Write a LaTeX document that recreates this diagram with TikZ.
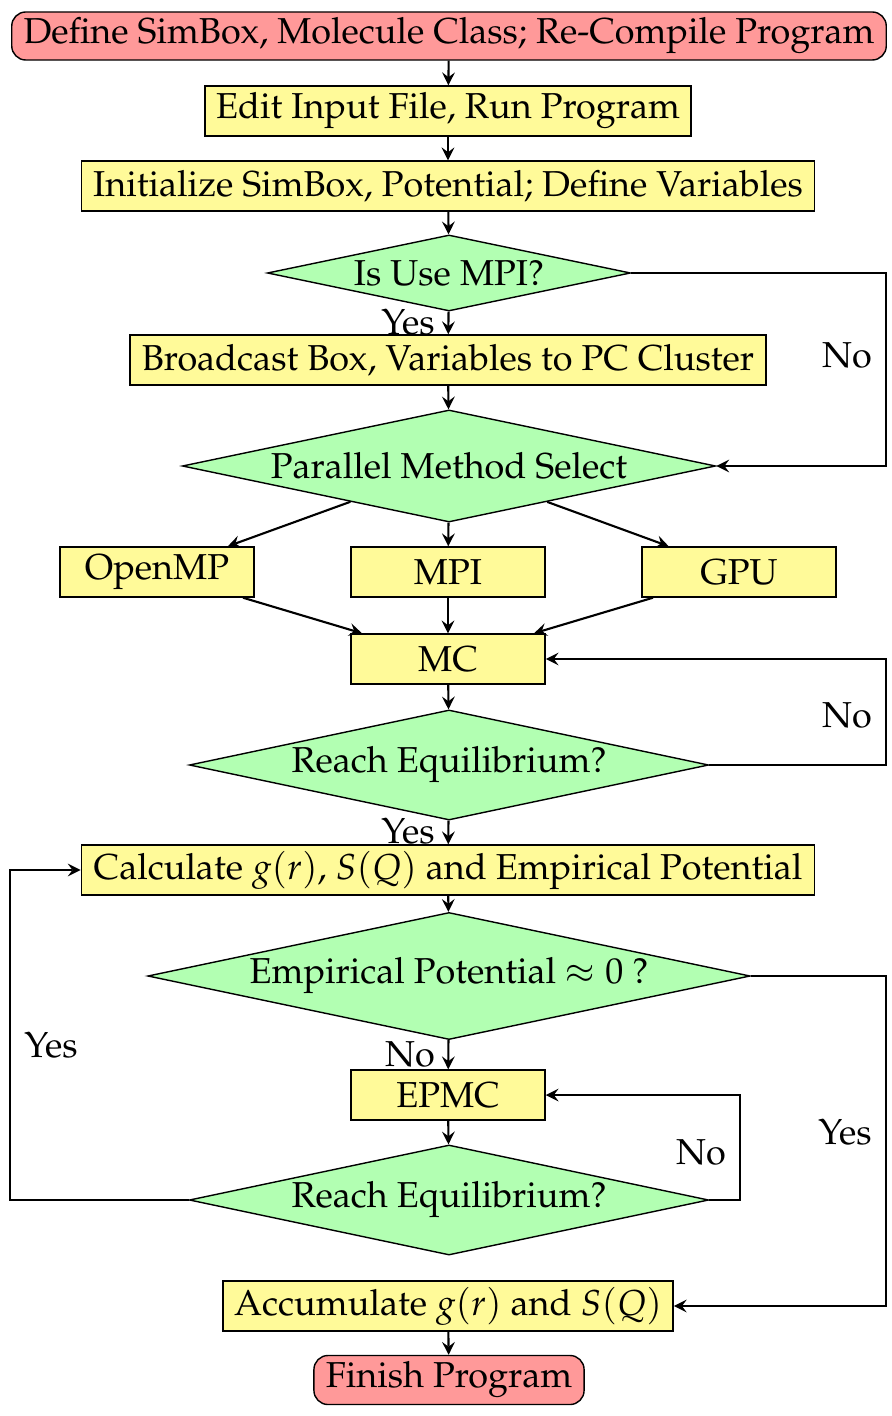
\documentclass[tikz,border=0pt]{standalone}
\usepackage[T1]{fontenc}
\usepackage{mathpazo}
\usetikzlibrary{shapes.geometric}

\begin{document}
\begin{tikzpicture}[x=0.01cm,y=-0.01cm,font=\fontsize{10.25}{12}\selectfont,
	startstop/.style={draw, rounded corners=4pt, fill=red!40, inner sep=0pt},
	procbox/.style={draw, fill=yellow!40, inner sep=0pt, minimum height=0.5cm},
	decide/.style={draw, diamond, aspect=4.7, fill=green!30, inner sep=0pt},
	answer/.style={inner sep=0pt},
	flow/.style={semithick,->,>=stealth}]
	\useasboundingbox (0,0) rectangle (891,1416);
	\node[startstop, minimum width=8.74cm, minimum height=0.48cm] (define) at (449,36) {Define SimBox, Molecule Class; Re-Compile Program};
	\node[procbox, minimum width=4.86cm] (edit) at (448,111) {Edit Input File, Run Program};
	\node[procbox, minimum width=7.33cm] (init) at (448,186) {Initialize SimBox, Potential; Define Variables};
	\node[decide, minimum width=3.63cm, minimum height=0.76cm] (usempi) at (449,273) {Is Use MPI?};
	\node[procbox, minimum width=6.36cm] (bcast) at (448,360) {Broadcast Box, Variables to PC Cluster};
	\node[decide, minimum width=5.33cm, minimum height=1.12cm] (select) at (449,466) {Parallel Method Select};
	\node[procbox, minimum width=1.94cm] (openmp) at (157,572) {OpenMP};
	\node[procbox, minimum width=1.94cm] (mpi) at (448,572) {MPI};
	\node[procbox, minimum width=1.94cm] (gpu) at (739,572) {GPU};
	\node[procbox, minimum width=1.94cm] (mc) at (448,659) {MC};
	\node[decide, minimum width=5.19cm, minimum height=1.10cm] (equil) at (449,765) {Reach Equilibrium?};
	\node[procbox, minimum width=7.33cm] (calc) at (448,870) {Calculate $g(r)$, $S(Q)$ and Empirical Potential};
	\node[decide, minimum width=6.02cm, minimum height=1.27cm] (empot) at (449,976) {Empirical Potential $\approx 0$ ?};
	\node[procbox, minimum width=1.94cm] (epmc) at (448,1095) {EPMC};
	\node[decide, minimum width=5.19cm, minimum height=1.10cm] (equiltwo) at (449,1200) {Reach Equilibrium?};
	\node[procbox, minimum width=4.50cm] (accum) at (448,1306) {Accumulate $g(r)$ and $S(Q)$};
	\node[startstop, minimum width=2.70cm, minimum height=0.49cm] (finish) at (449,1380) {Finish Program};

	\node[answer] (yesa) at (408,322) {Yes};
	\node[answer] (noa) at (847,355) {No};
	\node[answer] (nob) at (847,715) {No};
	\node[answer] (yesb) at (408,831) {Yes};
	\node[answer] (noc) at (410,1054) {No};
	\node[answer] (yesc) at (51,1045) {Yes};
	\node[answer] (nod) at (701,1152) {No};
	\node[answer] (yesd) at (845,1132) {Yes};

	\coordinate (rside) at (886,0);
	\coordinate (lside) at (10,0);
	\coordinate (mside) at (740,0);
	\draw[flow] (define) -- (edit);
	\draw[flow] (edit) -- (init);
	\draw[flow] (init) -- (usempi);
	\draw[flow] (usempi) -- (bcast);
	\draw[flow] (bcast) -- (select);
	\draw[flow] (usempi.east) -- (usempi.east -| rside) |- (select.east);
	\foreach \n in {openmp,mpi,gpu} {
		\draw[flow] (select) -- (\n);
		\draw[flow] (\n) -- (mc);
	}
	\draw[flow] (mc) -- (equil);
	\draw[flow] (equil.east) -- (equil.east -| rside) |- (mc.east);
	\draw[flow] (equil) -- (calc);
	\draw[flow] (calc) -- (empot);
	\draw[flow] (empot) -- (epmc);
	\draw[flow] (epmc) -- (equiltwo);
	\draw[flow] (equiltwo.east) -- (equiltwo.east -| mside) |- (epmc.east);
	\draw[flow] (equiltwo.west) -- (equiltwo.west -| lside) |- (calc.west);
	\draw[flow] (empot.east) -- (empot.east -| rside) |- (accum.east);
	\draw[flow] (accum) -- (finish);
\end{tikzpicture}
\end{document}
